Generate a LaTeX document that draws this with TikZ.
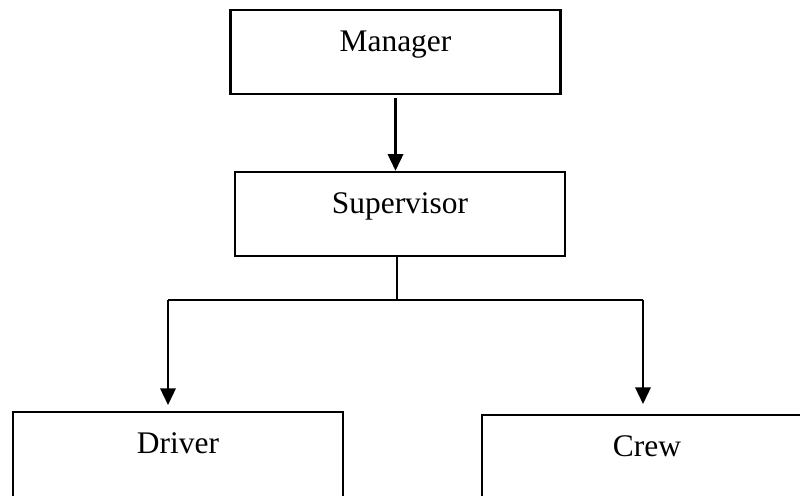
\documentclass[tikz,border=0pt]{standalone}
\usepackage{fontspec}
\setmainfont{Liberation Serif}
\usetikzlibrary{arrows.meta}
\tikzset{box/.style={draw,line width=1.4pt,rectangle,inner sep=0pt,minimum width=6.6cm,text height=0.82cm,text depth=0.86cm,font=\fontsize{17.9}{20}\selectfont},
  lowbox/.style={box,text depth=1.2cm},
  link/.style={line width=1.2pt,-{Triangle[length=9.5pt,width=8.8pt]}}}

\begin{document}
\begin{tikzpicture}
\useasboundingbox (0,0) rectangle (16,-9.9);
\node[box] (mgr) at (7.91,-1.04) {Manager};
\node[box] (sup) at (8.0,-4.28) {Supervisor};
\node[lowbox,anchor=north] (drv) at (3.56,-8.22) {Driver};
\node[lowbox,anchor=north] (crew) at (12.94,-8.28) {Crew};
% branch points
\coordinate (split) at (7.94,-6.0);
\coordinate (left) at (3.36,-6.0);
\coordinate (right) at (12.86,-6.0);
\draw  [link,shorten <=0.06cm](mgr.south)--(mgr.south |- sup.north);
\draw  [line width=0.7pt](sup.south -| split)--(split);
\draw  [line width=0.8pt](left)--(right);
\draw  [link,shorten >=0.12cm](left)--(left |- drv.north);
\draw  [link,shorten >=0.2cm](right)--(right |- crew.north);
\end{tikzpicture}
\end{document}
